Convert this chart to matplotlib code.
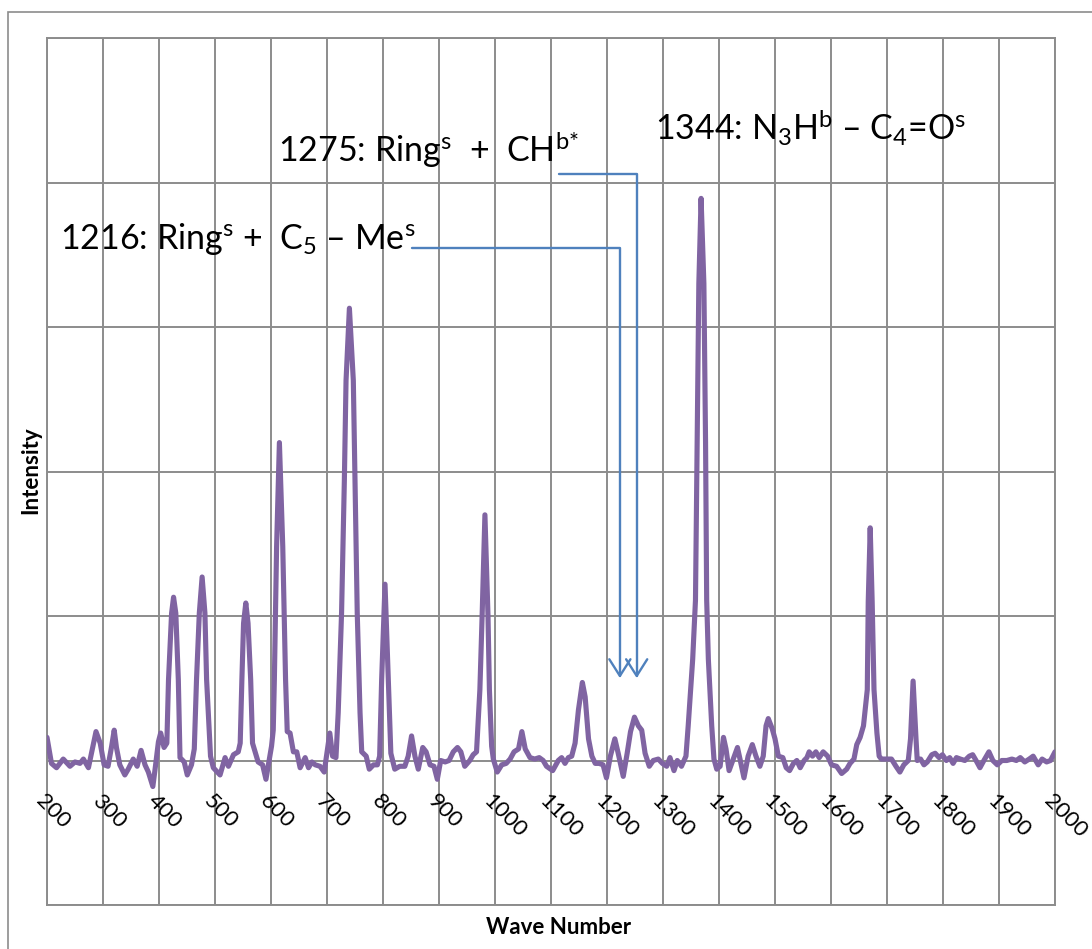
import matplotlib
matplotlib.use("Agg")
import matplotlib.pyplot as plt
from matplotlib.patches import Rectangle

plt.rcParams['font.family'] = ['Lato', 'DejaVu Sans']
plt.rcParams['mathtext.fontset'] = 'custom'
plt.rcParams['mathtext.rm'] = 'Lato'
plt.rcParams['mathtext.it'] = 'Lato:italic'
plt.rcParams['mathtext.bf'] = 'Lato:bold'

# spectrum
wave_number = [
    200, 208, 217, 229, 241, 250, 259, 265, 274, 282, 287.5, 295, 302, 309, 315.5, 320, 324,
    330, 339, 345, 354, 361, 368, 375, 381, 389, 393, 399, 403, 409, 414, 417, 422.5, 426,
    430, 434.5, 437.5, 445, 450.5, 458, 463, 467, 472, 477, 482, 485, 492, 497, 509, 518,
    524, 533, 541.5, 545, 548, 551, 555, 559, 563.7, 567, 577, 585, 591, 598, 601, 604,
    606, 610, 615, 621, 626, 629, 634, 640, 646, 652, 661, 667, 673, 679, 687.5, 695, 699,
    705, 710, 716, 720, 726, 731, 734, 740, 747, 750, 754, 759, 762, 770, 775.5, 783, 790,
    794, 797.6, 803.6, 809.5, 814, 821, 830, 839, 845, 851, 857, 863, 871, 877, 884, 891,
    897, 903, 911, 918, 925.5, 933, 939, 946, 955, 961, 967, 973, 977, 982, 987.5, 990,
    994, 997, 1004, 1012, 1020, 1027, 1034, 1042, 1048, 1054, 1062.5, 1071, 1079, 1086,
    1092, 1103, 1113, 1119, 1125, 1131, 1137, 1143, 1149, 1156, 1161, 1167, 1173, 1179,
    1186, 1193, 1199, 1206, 1214, 1220, 1229, 1236, 1242, 1249, 1256, 1262, 1268, 1275.5,
    1282.6, 1291.6, 1299, 1306.6, 1312.5, 1319.6, 1325.5, 1333, 1341, 1345, 1353, 1358,
    1361, 1364, 1368, 1373, 1376, 1378, 1381, 1387, 1391, 1396, 1402, 1408, 1412.5, 1418,
    1425.5, 1433, 1437.5, 1444.6, 1452, 1459.5, 1466, 1473, 1479, 1484, 1488, 1495, 1500,
    1506, 1514, 1520, 1526, 1533, 1539, 1545, 1552, 1557, 1561, 1567, 1573, 1579, 1586,
    1594, 1601, 1610, 1619, 1628, 1634, 1641, 1646, 1652, 1658, 1664.8, 1666.5, 1670,
    1673.5, 1676.8, 1682, 1686, 1690, 1699, 1708, 1716, 1723, 1730, 1738, 1742, 1746.6,
    1751.8, 1754, 1760, 1766, 1772, 1780, 1786, 1793, 1799, 1806, 1812, 1818, 1824, 1831,
    1839, 1847, 1853, 1859, 1866, 1873, 1882, 1889, 1897, 1905, 1914, 1923, 1931, 1938,
    1946, 1954, 1961, 1970, 1977, 1985, 1992, 2000,
]
intensity = [
    0.16, -0.02, -0.05, 0.01, -0.04, -0.01, -0.02, 0.01, -0.05, 0.10, 0.20, 0.12, -0.03, -0.04, 0.10, 0.21, 0.09,
    -0.03, -0.10, -0.06, 0.01, -0.04, 0.07, -0.03, -0.08, -0.18, -0.06, 0.13, 0.19, 0.09, 0.12, 0.56, 1.02, 1.13,
    1.02, 0.56, 0.02, -0.01, -0.10, -0.03, 0.08, 0.56, 1.02, 1.27, 1.02, 0.56, 0.03, -0.05, -0.10, 0.02,
    -0.04, 0.04, 0.06, 0.12, 0.56, 0.95, 1.09, 0.95, 0.56, 0.12, -0.01, -0.03, -0.13, 0.03, 0.10, 0.21,
    0.56, 1.48, 2.20, 1.48, 0.56, 0.20, 0.19, 0.06, 0.06, -0.05, 0.02, -0.05, -0.01, -0.03, -0.04, -0.08, 0.03,
    0.19, 0.03, 0.02, 0.33, 1.02, 1.94, 2.63, 3.13, 2.63, 1.94, 1.02, 0.33, 0.06, 0.03, -0.06, -0.03, -0.03,
    0.03, 0.56, 1.22, 0.56, 0.05, -0.06, -0.04, -0.04, 0.03, 0.17, 0.03, -0.06, 0.09, 0.06, -0.03, -0.04,
    -0.13, 0.0, -0.01, 0.0, 0.06, 0.09, 0.06, -0.04, 0.0, 0.04, 0.06, 0.49, 1.0, 1.70, 1.0, 0.49,
    0.10, 0.01, -0.08, -0.03, -0.02, 0.01, 0.06, 0.08, 0.20, 0.08, 0.02, 0.01, 0.02, 0.0,
    -0.04, -0.07, 0.0, 0.02, -0.02, 0.02, 0.03, 0.12, 0.35, 0.54, 0.44, 0.15, 0.03, -0.02,
    -0.02, -0.03, -0.12, 0.03, 0.15, 0.05, -0.11, 0.05, 0.20, 0.30, 0.24, 0.21, 0.05, -0.04,
    0.0, 0.01, -0.02, -0.04, 0.02, -0.07, 0.0, -0.04, 0.03, 0.24, 0.70, 1.11,
    2.20, 3.30, 3.89, 3.30, 2.20, 1.11, 0.70, 0.24, 0.01, -0.06, -0.04, 0.16, 0.08, -0.07,
    0.01, 0.09, 0.01, -0.12, 0.03, 0.11, 0.03, -0.04, 0.03, 0.24, 0.29, 0.22, 0.15,
    0.03, 0.02, -0.05, -0.07, -0.02, 0.0, -0.05, 0.0, 0.02, 0.06, 0.03, 0.06, 0.02, 0.06,
    0.03, -0.03, -0.04, -0.09, -0.06, -0.02, 0.01, 0.11, 0.16, 0.24, 0.49, 1.10, 1.61,
    1.10, 0.49, 0.19, 0.03, 0.01, 0.01, 0.01, -0.04, -0.08, -0.03, 0.0, 0.15, 0.55,
    0.15, 0.0, 0.01, -0.03, -0.01, 0.04, 0.05, 0.02, 0.04, 0.0, 0.02, -0.02, 0.02, 0.01,
    0.0, 0.03, 0.04, 0.0, -0.05, 0.0, 0.06, 0.0, -0.03, 0.0, 0.0, 0.01, 0.0, 0.02,
    -0.01, 0.01, 0.03, -0.03, 0.01, -0.01, 0.0, 0.06,
]

x_ticks = list(range(200, 2001, 100))
y_grid = [-1, 0, 1, 2, 3, 4, 5]

# peak labels: text, text anchor, arrow start, arrow tip
labels = [
    ("1275: Ring$^{\\mathrm{s}}$  +  CH$^{\\text{b*}}$", (612, 4.14), (1114, 4.06), (1253, 0.57)),
    ("1216: Ring$^{\\mathrm{s}}$ +  C$_{\\mathrm{5}}$ – Me$^{\\mathrm{s}}$", (223, 3.54), (851, 3.55), (1223, 0.57)),
    ("1344: N$_{\\mathrm{3}}$H$^{\\mathrm{b}}$ – C$_{\\mathrm{4}}$=O$^{\\mathrm{s}}$", (1286, 4.29), None, None),
]

LINE = '#8064A2'
ARROW = '#4F81BD'
GRID = '#8C8C8C'

fig = plt.figure(figsize=(10.92, 9.49), dpi=100)
ax = fig.add_axes([47 / 1092, 1 - 905 / 949, 1008 / 1092, 867 / 949])

ax.plot(wave_number, intensity, color=LINE, lw=3.7, solid_joinstyle='round',
        solid_capstyle='round', zorder=3)

ax.set_xlim(200, 2000)
ax.set_ylim(-1, 5)
ax.set_xticks(x_ticks)
ax.set_yticks(y_grid)
ax.grid(True, color=GRID, lw=1.4)
ax.set_axisbelow(True)
ax.tick_params(length=0, labelbottom=False, labelleft=False)
for s in ax.spines.values():
    s.set_color(GRID)
    s.set_linewidth(1.4)

# tick labels sit on the zero line, slanted down-right
for t in x_ticks:
    ax.annotate(str(t), xy=(t, 0), xytext=(-1, -30), textcoords='offset pixels',
                rotation=-45, rotation_mode='anchor', ha='left', va='top',
                fontsize=16, color='black', annotation_clip=False)

for txt, pos, start, tip in labels:
    ax.text(pos[0], pos[1], txt, fontsize=24.5, ha='left', va='baseline', zorder=4)
    if start is not None:
        ax.annotate('', xy=tip, xytext=start,
                    arrowprops=dict(arrowstyle='->,head_length=0.6,head_width=0.38',
                                    connectionstyle='angle,angleA=0,angleB=90,rad=0',
                                    color=ARROW, lw=1.7, shrinkA=0, shrinkB=0,
                                    mutation_scale=20),
                    zorder=4)

fig.text(559 / 1092, 1 - 927 / 949, 'Wave Number', ha='center', va='center',
         fontsize=16, fontweight='bold')
fig.text(31 / 1092, 1 - 470 / 949, 'Intensity', ha='center', va='center',
         rotation=90, fontsize=16, fontweight='bold')

# outer chart frame (runs off the right and bottom edge)
fig.add_artist(Rectangle((8 / 1092, -0.05), 1.1, 1 - 12 / 949 + 0.05,
                         transform=fig.transFigure, fill=False,
                         edgecolor=GRID, lw=1.2))

fig.savefig('out.png', dpi=100)
